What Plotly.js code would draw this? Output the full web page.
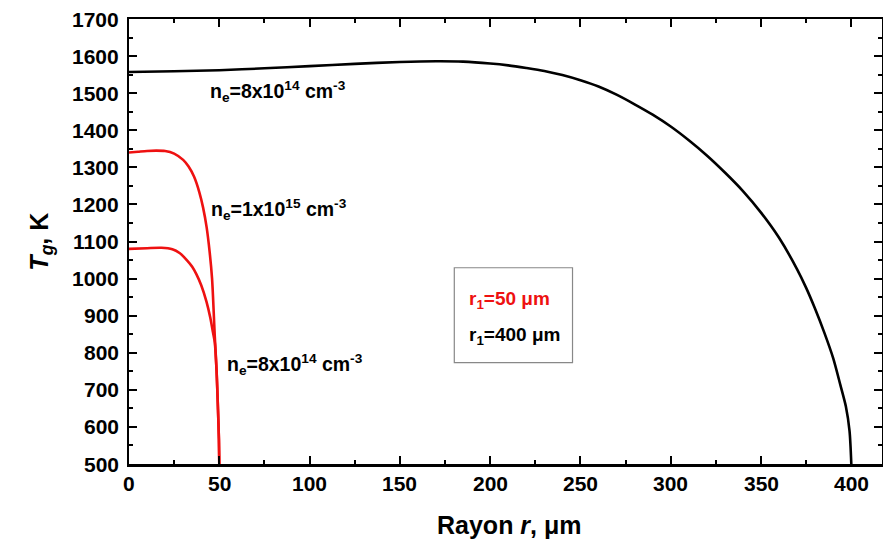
<!DOCTYPE html>
<html>
<head>
<meta charset="utf-8">
<script src="https://cdn.plot.ly/plotly-3.0.1.min.js"></script>
<style>html,body{margin:0;padding:0;background:#fff;}#chart{width:883px;height:543px;}</style>
</head>
<body>
<div id="chart"></div>
<script>
// Black curve: ne = 8x10^14 cm^-3, r1 = 400 µm
const rBlack = [0, 25, 50, 75, 100, 125, 150, 170, 185, 200, 210, 220, 230, 240, 250, 260, 270, 280, 290, 300, 310, 320, 330, 340, 350, 360, 370, 375, 380, 385, 390, 394, 397, 399, 400];
const tBlack = [1557, 1559, 1562, 1567, 1573, 1579, 1584, 1586, 1585, 1580, 1575, 1568, 1560, 1549, 1535, 1518, 1496, 1470, 1442, 1410, 1373, 1332, 1286, 1236, 1178, 1110, 1025, 975, 918, 855, 785, 712, 655, 590, 500];

// Red curve: ne = 1x10^15 cm^-3, r1 = 50 µm
const rRedHigh = [0, 5, 10, 15, 20, 25, 30, 33, 36, 39, 41, 43, 44.7, 46, 47.5, 48.5, 49.3, 49.8, 50];
const tRedHigh = [1340, 1342, 1344, 1345, 1344, 1337, 1320, 1302, 1275, 1232, 1192, 1138, 1070, 1000, 845, 752, 645, 565, 500];

// Red curve: ne = 8x10^14 cm^-3, r1 = 50 µm
const rRedLow = [0, 10, 18, 24, 28, 32, 35, 37.3, 40, 42.9, 45, 46.5, 47.5, 48.5, 49.3, 49.8, 50];
const tRedLow = [1080, 1082, 1083, 1079, 1069, 1050, 1032, 1012, 982, 938, 895, 855, 828, 750, 645, 565, 500];

// Tick labels
const xTicks = [0, 50, 100, 150, 200, 250, 300, 350, 400];
const yTicks = [500, 600, 700, 800, 900, 1000, 1100, 1200, 1300, 1400, 1500, 1600, 1700];

const xTitle = 'Rayon <i>r</i>, μm';
const yTitle = '<i>T<sub>g</sub></i>, K';
const labelBlack = 'n<sub>e</sub>=8x10<sup>14</sup> cm<sup>-3</sup>';
const labelRedHigh = 'n<sub>e</sub>=1x10<sup>15</sup> cm<sup>-3</sup>';
const labelRedLow = 'n<sub>e</sub>=8x10<sup>14</sup> cm<sup>-3</sup>';
const legendRed = 'r<sub>1</sub>=50 μm';
const legendBlack = 'r<sub>1</sub>=400 μm';

const FONT = 'Liberation Sans, Arial, sans-serif';
const RED = '#ee1111';

const lineStyle = (c) => ({color: c, width: 2.6, shape: 'spline', smoothing: 0.8});
const traces = [
  {x: rBlack, y: tBlack, mode: 'lines', line: lineStyle('#000'), hoverinfo: 'skip'},
  {x: rRedHigh, y: tRedHigh, mode: 'lines', line: lineStyle(RED), hoverinfo: 'skip'},
  {x: rRedLow, y: tRedLow, mode: 'lines', line: lineStyle(RED), hoverinfo: 'skip'}
];

const axis = (range, tick0, dtick, minorDtick) => ({
  range: range, showline: true, linecolor: '#000', linewidth: 2.5, mirror: 'ticks',
  ticks: 'inside', ticklen: 8, tickwidth: 2, tickcolor: '#000',
  showgrid: false, zeroline: false, showticklabels: false,
  tick0: tick0, dtick: dtick,
  minor: {dtick: minorDtick, ticks: 'inside', ticklen: 4, tickwidth: 2, tickcolor: '#000'}
});

const bold = (s) => '<b>' + s + '</b>';
const annotations = [];
// tick labels (bold), positioned through the axes' own scales
xTicks.forEach(v => annotations.push({
  x: v, xref: 'x', y: 0, yref: 'paper', yanchor: 'top', xanchor: 'center', yshift: -6,
  text: bold(String(v)), showarrow: false, font: {family: FONT, size: 21, color: '#000'}
}));
yTicks.forEach(v => annotations.push({
  x: 0, xref: 'paper', y: v, yref: 'y', xanchor: 'right', yanchor: 'middle', xshift: -8,
  text: bold(String(v)), showarrow: false, font: {family: FONT, size: 21, color: '#000'}
}));
// axis titles
annotations.push({x: 0.505, xref: 'paper', y: -0.137, yref: 'paper', xanchor: 'center', yanchor: 'middle',
  text: bold(xTitle), showarrow: false, font: {family: FONT, size: 25, color: '#000'}});
annotations.push({x: -0.118, xref: 'paper', y: 0.5, yref: 'paper', xanchor: 'center', yanchor: 'middle', textangle: -90,
  text: bold(yTitle), showarrow: false, font: {family: FONT, size: 25, color: '#000'}});
// curve labels
annotations.push({x: 43.5, y: 1504, text: bold(labelBlack), showarrow: false, xanchor: 'left', yanchor: 'middle',
  font: {family: FONT, size: 19.5, color: '#000'}});
annotations.push({x: 44.5, y: 1186, text: bold(labelRedHigh), showarrow: false, xanchor: 'left', yanchor: 'middle',
  font: {family: FONT, size: 19.5, color: '#000'}});
annotations.push({x: 53, y: 768, text: bold(labelRedLow), showarrow: false, xanchor: 'left', yanchor: 'middle',
  font: {family: FONT, size: 19.5, color: '#000'}});
// legend box texts
annotations.push({x: 187, y: 943, text: bold(legendRed), showarrow: false, xanchor: 'left', yanchor: 'middle',
  font: {family: FONT, size: 19, color: RED}});
annotations.push({x: 187, y: 845, text: bold(legendBlack), showarrow: false, xanchor: 'left', yanchor: 'middle',
  font: {family: FONT, size: 19, color: '#000'}});

const layout = {
  width: 883, height: 543,
  margin: {l: 129, r: 1, t: 19, b: 79},
  paper_bgcolor: '#fff', plot_bgcolor: '#fff',
  showlegend: false,
  xaxis: axis([0, 417], 0, 50, 25),
  yaxis: axis([500, 1700], 500, 100, 50),
  shapes: [
    {type: 'rect', xref: 'paper', yref: 'paper', x0: 0.432, x1: 0.589, y0: 0.228, y1: 0.441,
     line: {color: '#888', width: 1.2}, fillcolor: 'rgba(0,0,0,0)'}
  ],
  annotations: annotations
};

Plotly.newPlot('chart', traces, layout, {staticPlot: true, displayModeBar: false});
</script>
</body>
</html>
